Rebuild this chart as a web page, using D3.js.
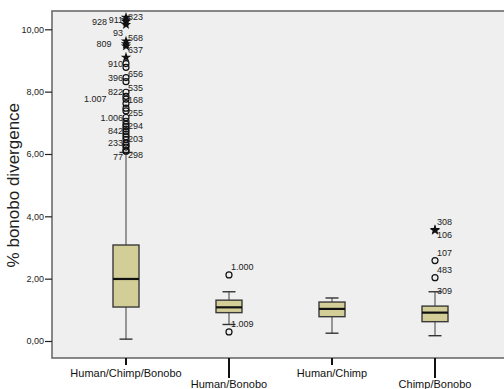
<!DOCTYPE html>
<html>
<head>
<meta charset="utf-8">
<script src="https://cdn.jsdelivr.net/npm/d3@7"></script>
<style>
  html, body { margin: 0; padding: 0; background: #ffffff; }
  svg { display: block; font-family: "Liberation Sans", Arial, sans-serif; }
</style>
</head>
<body>
<svg id="chart" width="504" height="389"></svg>
<script>
// Groups on the x axis
const categories = ["Human/Chimp/Bonobo", "Human/Bonobo", "Human/Chimp", "Chimp/Bonobo"];

// Five-number summaries per group (% bonobo divergence)
const whiskerLow  = [0.06, 0.53, 0.25, 0.17];
const quartile1   = [1.09, 0.91, 0.78, 0.62];
const medians     = [1.99, 1.08, 1.03, 0.91];
const quartile3   = [3.08, 1.31, 1.25, 1.12];
const whiskerHigh = [6.05, 1.58, 1.38, 1.58];

// Outlying cases: [value, marker ("o" outlier, "*" extreme, "" hidden), case id, label placement]
const outliersHumanChimpBonobo = [
  [10.38, "*", "",      ""],
  [10.30, "*", "911",   "l"],
  [10.25, "*", "928",   "l"],
  [10.15, "*", "823",   "r"],
  [9.62,  "*", "93",    "lt"],
  [9.53,  "*", "809",   "l"],
  [9.46,  "*", "568",   "r"],
  [9.10,  "*", "637",   "r"],
  [8.90,  "o", "910",   "l"],
  [8.78,  "o", "",      ""],
  [8.45,  "o", "396",   "l"],
  [8.32,  "o", "656",   "r"],
  [7.98,  "o", "822",   "l"],
  [7.85,  "o", "535",   "r"],
  [7.76,  "o", "1.007", "l"],
  [7.62,  "o", "",      ""],
  [7.47,  "o", "168",   "r"],
  [7.38,  "o", "",      ""],
  [7.17,  "o", "1.006", "l"],
  [7.05,  "o", "255",   "r"],
  [6.95,  "o", "",      ""],
  [6.88,  "o", "",      ""],
  [6.80,  "o", "",      ""],
  [6.73,  "o", "842",   "l"],
  [6.64,  "o", "294",   "r"],
  [6.55,  "o", "",      ""],
  [6.47,  "o", "",      ""],
  [6.35,  "o", "233",   "l"],
  [6.28,  "o", "",      ""],
  [6.22,  "o", "203",   "r"],
  [6.12,  "o", "298",   "rb"],
  [6.09,  "o", "77",    "lb"]
];
const outliersHumanBonobo = [
  [2.12, "o", "1.000", "r"],
  [0.29, "o", "1.009", "r"]
];
const outliersHumanChimp = [];
const outliersChimpBonobo = [
  [3.57, "*", "308", "r"],
  [3.55, "*", "106", "rb"],
  [2.58, "o", "107", "r"],
  [2.03, "o", "483", "r"],
  [1.62, "",  "309", "rm"]
];
const outlierSets = [outliersHumanChimpBonobo, outliersHumanBonobo, outliersHumanChimp, outliersChimpBonobo];

const yTicks = [0, 2, 4, 6, 8, 10];
const yTitle = "% bonobo divergence";

// ---------------------------------------------------------------
const svg = d3.select("#chart");
const frame = { left: 52, top: 11, right: 504, bottom: 358 };

const y = d3.scaleLinear().domain([0, 10]).range([341, 29.3]);
const x = d3.scalePoint().domain(categories).range([126, 435]);

const locale = d3.formatLocale({ decimal: ",", thousands: ".", grouping: [3], currency: ["", ""] });
const fmt = locale.format(".2f");

// plot background and frame
svg.append("rect")
  .attr("x", frame.left).attr("y", frame.top)
  .attr("width", frame.right - frame.left + 10)
  .attr("height", frame.bottom - frame.top)
  .attr("fill", "#efefef")
  .attr("stroke", "#6c6c6c")
  .attr("stroke-width", 1.6);

// y axis
const yAxis = svg.append("g")
  .attr("transform", `translate(${frame.left},0)`)
  .call(d3.axisLeft(y).tickValues(yTicks).tickSize(7).tickPadding(1).tickFormat(fmt));
yAxis.select(".domain").remove();
yAxis.selectAll(".tick line").attr("stroke", "#222").attr("stroke-width", 1.2);
yAxis.selectAll(".tick text")
  .attr("font-size", 9).attr("fill", "#222")
  .attr("font-family", "Liberation Sans, Arial, sans-serif");

svg.append("text")
  .attr("transform", `translate(19,${y(5)}) rotate(-90)`)
  .attr("text-anchor", "middle")
  .attr("font-size", 17)
  .attr("fill", "#222")
  .text(yTitle);

// x axis: staggered category labels
const xAxis = svg.append("g");
categories.forEach((c, i) => {
  const row = i % 2;
  const cx = x(c);
  xAxis.append("line")
    .attr("x1", cx).attr("x2", cx)
    .attr("y1", frame.bottom).attr("y2", row ? 378 : 365)
    .attr("stroke", "#111").attr("stroke-width", 2);
  xAxis.append("text")
    .attr("x", cx).attr("y", row ? 388 : 377)
    .attr("text-anchor", "middle")
    .attr("font-size", 11)
    .attr("fill", "#111")
    .text(c);
});

// boxes
const boxW = 26, capW = 13;
const boxes = svg.append("g");
categories.forEach((c, i) => {
  const cx = x(c);
  const g = boxes.append("g");
  // whiskers
  g.append("line").attr("x1", cx).attr("x2", cx)
    .attr("y1", y(quartile3[i])).attr("y2", y(whiskerHigh[i]))
    .attr("stroke", "#666").attr("stroke-width", 1.3);
  g.append("line").attr("x1", cx).attr("x2", cx)
    .attr("y1", y(quartile1[i])).attr("y2", y(whiskerLow[i]))
    .attr("stroke", "#666").attr("stroke-width", 1.3);
  [whiskerHigh[i], whiskerLow[i]].forEach(v => {
    g.append("line").attr("x1", cx - capW / 2).attr("x2", cx + capW / 2)
      .attr("y1", y(v)).attr("y2", y(v))
      .attr("stroke", "#333").attr("stroke-width", 1.4);
  });
  g.append("rect")
    .attr("x", cx - boxW / 2).attr("y", y(quartile3[i]))
    .attr("width", boxW).attr("height", y(quartile1[i]) - y(quartile3[i]))
    .attr("fill", "#d3cd97").attr("stroke", "#3a3a3a").attr("stroke-width", 1.4);
  g.append("line").attr("x1", cx - boxW / 2).attr("x2", cx + boxW / 2)
    .attr("y1", y(medians[i])).attr("y2", y(medians[i]))
    .attr("stroke", "#111").attr("stroke-width", 2.2);
});

// outlier markers
const marks = svg.append("g");
const star = d3.symbol().type(d3.symbolStar).size(34);
outlierSets.forEach((set, i) => {
  const cx = x(categories[i]);
  set.forEach(([v, kind]) => {
    if (kind === "o") {
      marks.append("circle").attr("cx", cx).attr("cy", y(v)).attr("r", 3)
        .attr("fill", "none").attr("stroke", "#111").attr("stroke-width", 1.2);
    } else if (kind === "*") {
      marks.append("path").attr("d", star)
        .attr("transform", `translate(${cx},${y(v)})`)
        .attr("fill", "#111");
    }
  });
});

// case-id labels, nudged sideways when they would overlap
const labels = svg.append("g").attr("font-size", 9).attr("fill", "#222");
const offsets = { r: -8, rm: 0, rb: 5, l: 0, lt: -8, lb: 6 };
outlierSets.forEach((set, i) => {
  const cx = x(categories[i]);
  const placedLeft = [];
  set.forEach(([v, kind, id, place]) => {
    if (!id) return;
    const cy = y(v) + offsets[place];
    const t = labels.append("text").attr("dy", "0.35em").attr("y", cy).text(id);
    const w = t.node().getComputedTextLength();
    if (place[0] === "r") {
      t.attr("x", cx + 2);
    } else {
      let xEnd = cx - 3;
      let moved = true;
      while (moved) {
        moved = false;
        for (const p of placedLeft) {
          if (Math.abs(p.cy - cy) < 11.5 && xEnd > p.x0 && xEnd - w < p.x1) {
            xEnd = p.x0 - 1.5;
            moved = true;
          }
        }
      }
      t.attr("x", xEnd).attr("text-anchor", "end");
      placedLeft.push({ cy, x0: xEnd - w, x1: xEnd });
    }
  });
});
</script>
</body>
</html>
